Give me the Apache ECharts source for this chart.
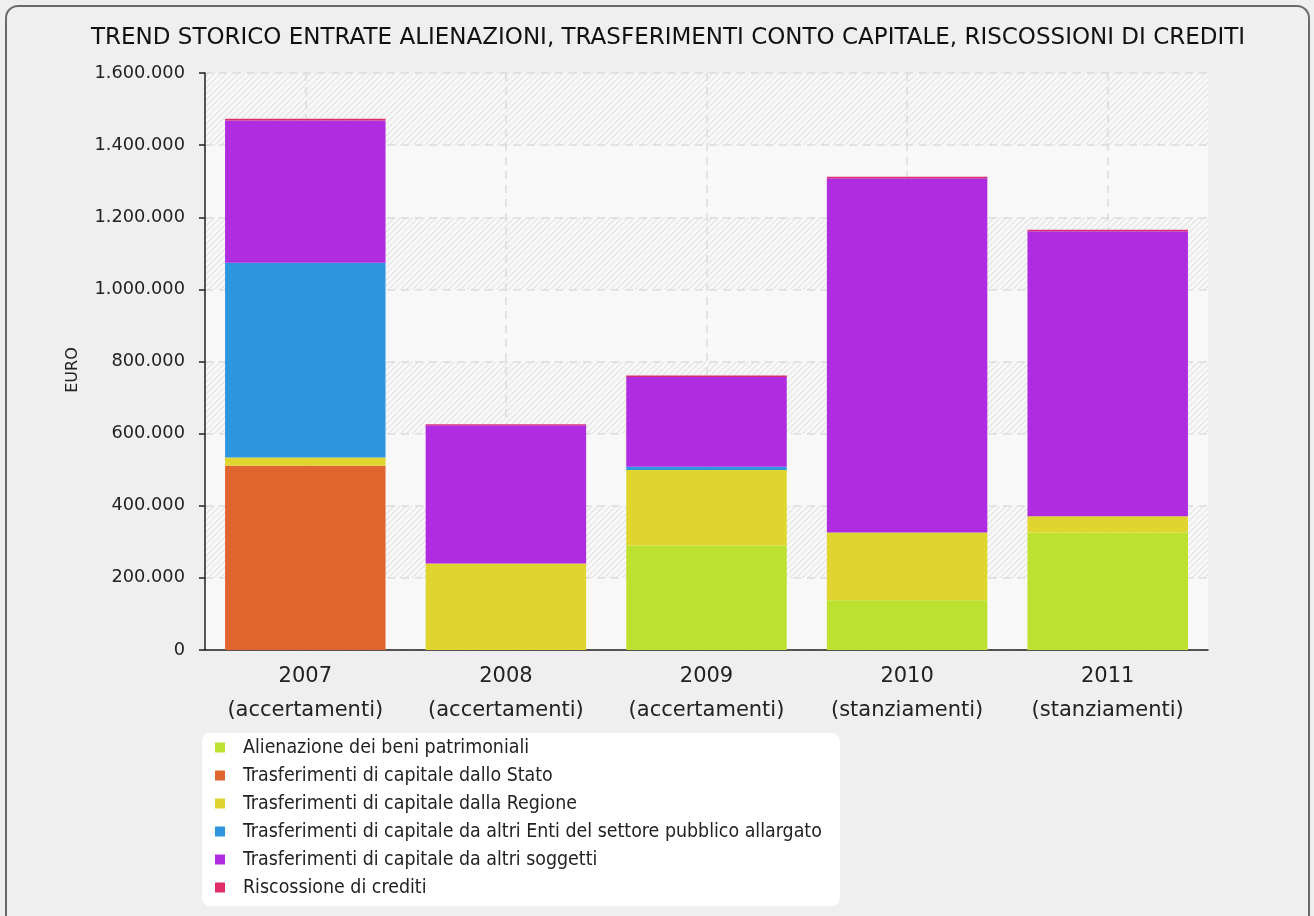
<!DOCTYPE html>
<html>
<head>
<meta charset="utf-8">
<script src="https://cdn.jsdelivr.net/npm/echarts@6/dist/echarts.min.js"></script>
<style>
html,body{margin:0;padding:0;background:#efefef;}
#main{width:1314px;height:916px;}
</style>
</head>
<body>
<div id="main"></div>
<script>
const categories = ['2007\n(accertamenti)', '2008\n(accertamenti)', '2009\n(accertamenti)', '2010\n(stanziamenti)', '2011\n(stanziamenti)'];
const seriesNames = [
  'Alienazione dei beni patrimoniali',
  'Trasferimenti di capitale dallo Stato',
  'Trasferimenti di capitale dalla Regione',
  'Trasferimenti di capitale da altri Enti del settore pubblico allargato',
  'Trasferimenti di capitale da altri soggetti',
  'Riscossione di crediti'
];
const alienazione = [0, 0, 290000, 138000, 326000];
const stato = [511000, 0, 0, 0, 0];
const regione = [23000, 240000, 209000, 188000, 45000];
const altriEnti = [540000, 0, 9000, 0, 0];
const altriSoggetti = [394000, 383000, 249000, 982000, 790000];
const riscossione = [5000, 3000, 4000, 4000, 4000];
const yTicks = [0, 200000, 400000, 600000, 800000, 1000000, 1200000, 1400000, 1600000];

const colors = ['#bde12f', '#e0642d', '#e0d52e', '#2e96de', '#b02ce0', '#e02e6c'];
const values = [alienazione, stato, regione, altriEnti, altriSoggetti, riscossione];

function fmt(v){ return String(v).replace(/\B(?=(\d{3})+(?!\d))/g, '.'); }

// hatch pattern
const pc = document.createElement('canvas');
pc.width = 6; pc.height = 6;
const ctx = pc.getContext('2d');
ctx.fillStyle = '#f8f8f8';
ctx.fillRect(0,0,6,6);
ctx.strokeStyle = '#e2e2e2';
ctx.lineWidth = 1.1;
ctx.beginPath();
ctx.moveTo(-1,7); ctx.lineTo(7,-1);
ctx.moveTo(-4,4); ctx.lineTo(4,-4);
ctx.moveTo(2,10); ctx.lineTo(10,2);
ctx.stroke();

const FONT = 'DejaVu Sans';
const chart = echarts.init(document.getElementById('main'), null, {renderer:'canvas'});

const series = seriesNames.map((n, i) => ({
  name: n,
  type: 'bar',
  stack: 'total',
  data: values[i],
  barCategoryGap: '20%',
  itemStyle: { color: colors[i] },
  emphasis: { disabled: true },
  z: 3
}));

chart.setOption({
  animation: false,
  backgroundColor: '#efefef',
  color: colors,
  textStyle: { fontFamily: FONT },
  graphic: [{
    type: 'rect',
    z: -1,
    shape: { x: 6, y: 6, width: 1303, height: 930, r: 12 },
    style: { fill: 'none', stroke: '#6a6a6a', lineWidth: 2 }
  }, {
    type: 'text',
    x: 73,
    y: 370,
    rotation: Math.PI / 2,
    style: { text: 'EURO', fontFamily: FONT, fontSize: 16, fill: '#222', align: 'center', verticalAlign: 'middle' }
  }],
  title: {
    text: 'TREND STORICO ENTRATE ALIENAZIONI, TRASFERIMENTI CONTO CAPITALE, RISCOSSIONI DI CREDITI',
    left: 86,
    top: 22,
    textStyle: { fontFamily: FONT, fontSize: 23, fontWeight: 'normal', color: '#111' }
  },
  grid: { left: 205, right: 106, top: 73, bottom: 266, show: true, backgroundColor: '#f8f8f8', borderWidth: 0 },
  legend: {
    orient: 'vertical',
    left: 202,
    top: 733,
    backgroundColor: '#ffffff',
    borderRadius: 8,
    padding: [5, 18, 9, 13],
    itemWidth: 10,
    itemHeight: 10,
    itemGap: 9,
    icon: 'rect',
    textStyle: { fontFamily: 'DejaVu Sans Condensed', fontSize: 19.4, lineHeight: 19, color: '#222', padding: [0,0,0,13] },
    data: seriesNames
  },
  xAxis: {
    type: 'category',
    data: categories,
    axisLine: { lineStyle: { color: '#222', width: 1.5 } },
    axisTick: { alignWithLabel: true, interval: 0, length: 6, lineStyle: { color: '#222', width: 1.5 } },
    axisLabel: { interval: 0, fontFamily: FONT, fontSize: 21, color: '#222', lineHeight: 34, margin: 10 },
    splitLine: { show: true, interval: 0, alignWithLabel: true, lineStyle: { color: '#dcdcdc', type: [8, 6], width: 1.5 } }
  },
  yAxis: {
    type: 'value',
    min: 0,
    max: 1600000,
    interval: 200000,
    axisLine: { show: true, lineStyle: { color: '#222', width: 1.5 } },
    axisTick: { show: true, length: 6, lineStyle: { color: '#222', width: 1.5 } },
    axisLabel: { fontFamily: FONT, fontSize: 17.8, color: '#222', margin: 20, formatter: v => yTicks.indexOf(v) >= 0 ? fmt(v) : '' },
    splitLine: { show: true, lineStyle: { color: '#dcdcdc', type: [8, 6], width: 1.5 } },
    splitArea: { show: true, areaStyle: { color: ['#f8f8f8', { image: pc, repeat: 'repeat' }] } }
  },
  series: series
});
</script>
</body>
</html>
